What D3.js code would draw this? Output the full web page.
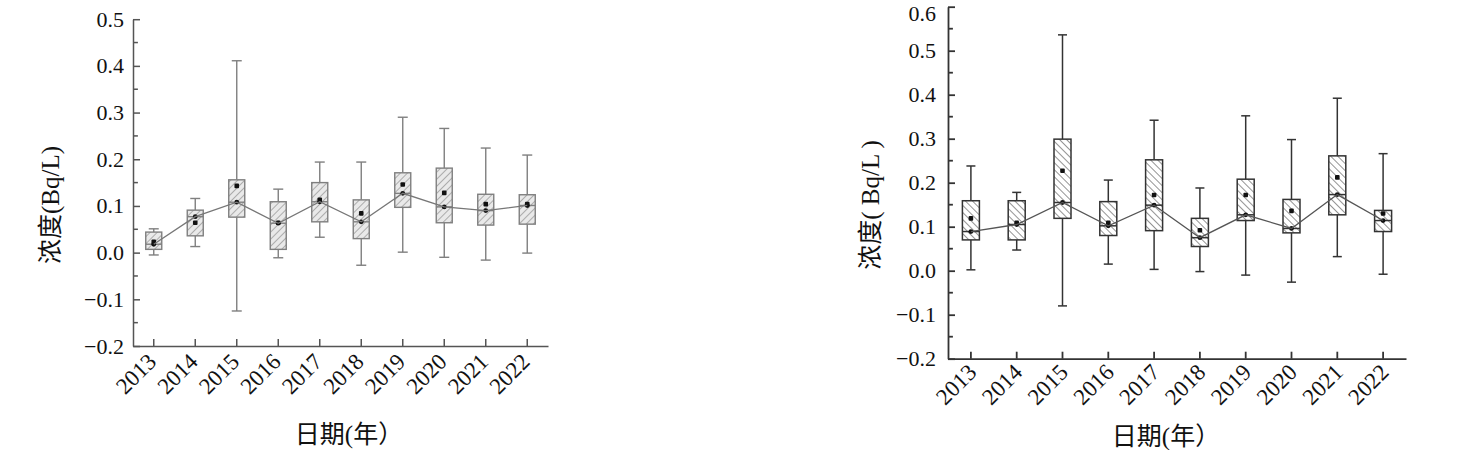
<!DOCTYPE html>
<html><head><meta charset="utf-8">
<script src="https://cdn.jsdelivr.net/npm/d3@7"></script>
<style>body{margin:0;background:#fff}svg{display:block}</style>
</head><body>
<svg id="c" width="1460" height="450"></svg>
<script>
const years = ["2013","2014","2015","2016","2017","2018","2019","2020","2021","2022"];
const yTicksLeft = [-0.2,-0.1,0.0,0.1,0.2,0.3,0.4,0.5];
const yTicksRight = [-0.2,-0.1,0.0,0.1,0.2,0.3,0.4,0.5,0.6];

// left chart
const leftHigh   = [0.051,0.116,0.411,0.136,0.194,0.194,0.290,0.266,0.224,0.209];
const leftQ3     = [0.044,0.091,0.156,0.109,0.150,0.113,0.171,0.181,0.125,0.124];
const leftMedian = [0.018,0.077,0.108,0.063,0.109,0.066,0.127,0.098,0.090,0.101];
const leftMean   = [0.023,0.064,0.143,0.064,0.113,0.084,0.146,0.128,0.104,0.104];
const leftQ1     = [0.007,0.036,0.076,0.007,0.066,0.030,0.097,0.064,0.059,0.061];
const leftLow    = [-0.005,0.013,-0.125,-0.011,0.033,-0.027,0.001,-0.010,-0.016,-0.001];

// right chart
const rightHigh   = [0.238,0.178,0.536,0.206,0.342,0.188,0.352,0.298,0.392,0.266];
const rightQ3     = [0.159,0.159,0.299,0.157,0.252,0.119,0.208,0.162,0.261,0.137];
const rightMedian = [0.089,0.105,0.155,0.102,0.149,0.075,0.127,0.096,0.173,0.114];
const rightMean   = [0.119,0.109,0.227,0.109,0.172,0.092,0.172,0.136,0.212,0.130];
const rightQ1     = [0.070,0.070,0.119,0.080,0.091,0.055,0.114,0.086,0.127,0.089];
const rightLow    = [0.002,0.047,-0.080,0.015,0.003,-0.002,-0.010,-0.026,0.032,-0.008];

const svg = d3.select("#c");
const defs = svg.append("defs");
function hatch(id, dir, color, bg, sw){
  const p = defs.append("pattern").attr("id", id).attr("patternUnits","userSpaceOnUse")
    .attr("width",5).attr("height",5)
    .attr("patternTransform", `rotate(${dir})`);
  p.append("rect").attr("width",5).attr("height",5).attr("fill",bg);
  p.append("line").attr("x1",0).attr("y1",0).attr("x2",0).attr("y2",5)
    .attr("stroke",color).attr("stroke-width",sw);
}
hatch("hL", 45, "#7a7a7a", "#e9e9e9", 1.1);
hatch("hR", -45, "#3a3a3a", "#ffffff", 1.1);

const numFont = "Liberation Serif, Times New Roman, serif";
const cjkFont = "Liberation Serif, Noto Sans CJK SC, serif";

function drawChart(o){
  const g = svg.append("g");
  const x = d3.scaleBand().domain(years).range([o.x0, o.x1]).padding(0);
  const y = d3.scaleLinear().domain([o.yTicks[0], o.yTicks[o.yTicks.length-1]]).range([o.yBottom, o.yTop]);
  const cx = d => x(d) + x.bandwidth()/2;
  const fmt = d3.format(".1f");

  // y axis
  const ya = g.append("g").attr("transform",`translate(${o.x0},0)`)
    .call(d3.axisLeft(y).tickValues(o.yTicks).tickFormat(fmt).tickSizeInner(-o.tick).tickSizeOuter(0).tickPadding(o.pad));
  ya.attr("font-family", null).attr("font-size", null);
  ya.select(".domain").attr("stroke",o.axis).attr("stroke-width",o.aw);
  ya.selectAll(".tick line").attr("stroke",o.axis).attr("stroke-width",o.aw);
  ya.selectAll(".tick text").style("font-family",numFont).style("font-size",o.fs+"px").attr("fill","#111")
    .attr("dy", d => (d === o.yTicks[o.yTicks.length-1] && o.topShift) ? "0.62em" : "0.32em");
  // minor ticks
  const minor = o.yTicks.slice(0,-1).map((t,i)=> (t + o.yTicks[i+1])/2);
  g.append("g").selectAll("line").data(minor).join("line")
    .attr("x1",o.x0).attr("x2",o.x0+o.tick*0.7).attr("y1",d=>y(d)).attr("y2",d=>y(d))
    .attr("stroke",o.axis).attr("stroke-width",o.aw);

  // x axis
  const xa = g.append("g").attr("transform",`translate(0,${o.yBottom})`)
    .call(d3.axisBottom(x).tickSizeInner(-o.tick).tickSizeOuter(0).tickPadding(0));
  xa.attr("font-family", null).attr("font-size", null);
  xa.select(".domain").attr("stroke",o.axis).attr("stroke-width",o.aw);
  xa.selectAll(".tick line").attr("stroke",o.axis).attr("stroke-width",o.aw);
  xa.selectAll(".tick text").style("font-family",numFont).style("font-size",o.xfs+"px").attr("fill","#111")
    .attr("text-anchor","end").attr("dy",0)
    .attr("transform",`translate(${o.lx},${o.ly}) rotate(-45)`);

  const w = o.bw, cap = o.cap;
  const data = years.map((yr,i)=>({yr, hi:o.hi[i], q3:o.q3[i], med:o.med[i], mean:o.mean[i], q1:o.q1[i], lo:o.lo[i]}));
  const b = g.append("g").selectAll("g").data(data).join("g");
  // whiskers
  b.append("line").attr("x1",d=>cx(d.yr)).attr("x2",d=>cx(d.yr)).attr("y1",d=>y(d.hi)).attr("y2",d=>y(d.q3))
    .attr("stroke",o.stroke).attr("stroke-width",o.sw);
  b.append("line").attr("x1",d=>cx(d.yr)).attr("x2",d=>cx(d.yr)).attr("y1",d=>y(d.q1)).attr("y2",d=>y(d.lo))
    .attr("stroke",o.stroke).attr("stroke-width",o.sw);
  b.append("line").attr("x1",d=>cx(d.yr)-cap/2).attr("x2",d=>cx(d.yr)+cap/2).attr("y1",d=>y(d.hi)).attr("y2",d=>y(d.hi))
    .attr("stroke",o.stroke).attr("stroke-width",o.sw);
  b.append("line").attr("x1",d=>cx(d.yr)-cap/2).attr("x2",d=>cx(d.yr)+cap/2).attr("y1",d=>y(d.lo)).attr("y2",d=>y(d.lo))
    .attr("stroke",o.stroke).attr("stroke-width",o.sw);
  // box
  b.append("rect").attr("x",d=>cx(d.yr)-w/2).attr("width",w).attr("y",d=>y(d.q3)).attr("height",d=>y(d.q1)-y(d.q3))
    .attr("fill",`url(#${o.pat})`).attr("stroke",o.stroke).attr("stroke-width",o.sw);
  // median line
  b.append("line").attr("x1",d=>cx(d.yr)-w/2).attr("x2",d=>cx(d.yr)+w/2).attr("y1",d=>y(d.med)).attr("y2",d=>y(d.med))
    .attr("stroke",o.stroke).attr("stroke-width",o.sw);

  // connecting line through medians
  g.append("path").datum(data)
    .attr("d", d3.line().x(d=>cx(d.yr)).y(d=>y(d.med)))
    .attr("fill","none").attr("stroke",o.lineC).attr("stroke-width",1.3);
  // points
  b.append("circle").attr("cx",d=>cx(d.yr)).attr("cy",d=>y(d.med)).attr("r",2.4).attr("fill","#111");
  b.append("rect").attr("x",d=>cx(d.yr)-2.3).attr("y",d=>y(d.mean)-2.3).attr("width",4.6).attr("height",4.6).attr("rx",1).attr("fill","#111");

  // titles
  g.append("text").attr("x",o.xtX).attr("y",o.xtY).attr("text-anchor","middle")
    .style("font-family",cjkFont).style("font-size","25px").attr("fill","#111").text("日期(年）");
  g.append("text").attr("transform",`translate(${o.ytX},${o.ytY}) rotate(-90)`).attr("text-anchor","middle")
    .style("font-family",cjkFont).style("font-size","25px").attr("fill","#111").text(o.ytitle);
}

drawChart({x0:133, x1:548, yTop:19.2, yBottom:346, yTicks:yTicksLeft,
  hi:leftHigh,q3:leftQ3,med:leftMedian,mean:leftMean,q1:leftQ1,lo:leftLow,
  axis:"#555", aw:1.5, stroke:"#7f7f7f", sw:1.4, lineC:"#777", pat:"hL",
  bw:16, cap:10, tick:7, pad:9, fs:22, xfs:23, lx:4, ly:17, topShift:false,
  xtX:349, xtY:443, ytX:59, ytY:205, ytitle:"浓度(Bq/L)"});

drawChart({x0:948, x1:1406, yTop:6.7, yBottom:358.7, yTicks:yTicksRight,
  hi:rightHigh,q3:rightQ3,med:rightMedian,mean:rightMean,q1:rightQ1,lo:rightLow,
  axis:"#333", aw:1.8, stroke:"#333", sw:1.5, lineC:"#555", pat:"hR",
  bw:17, cap:9, tick:7, pad:12, fs:22, xfs:23, lx:7, ly:15, topShift:true,
  xtX:1166, xtY:445, ytX:879, ytY:205, ytitle:"浓度( Bq/L )"});
</script>
</body></html>
